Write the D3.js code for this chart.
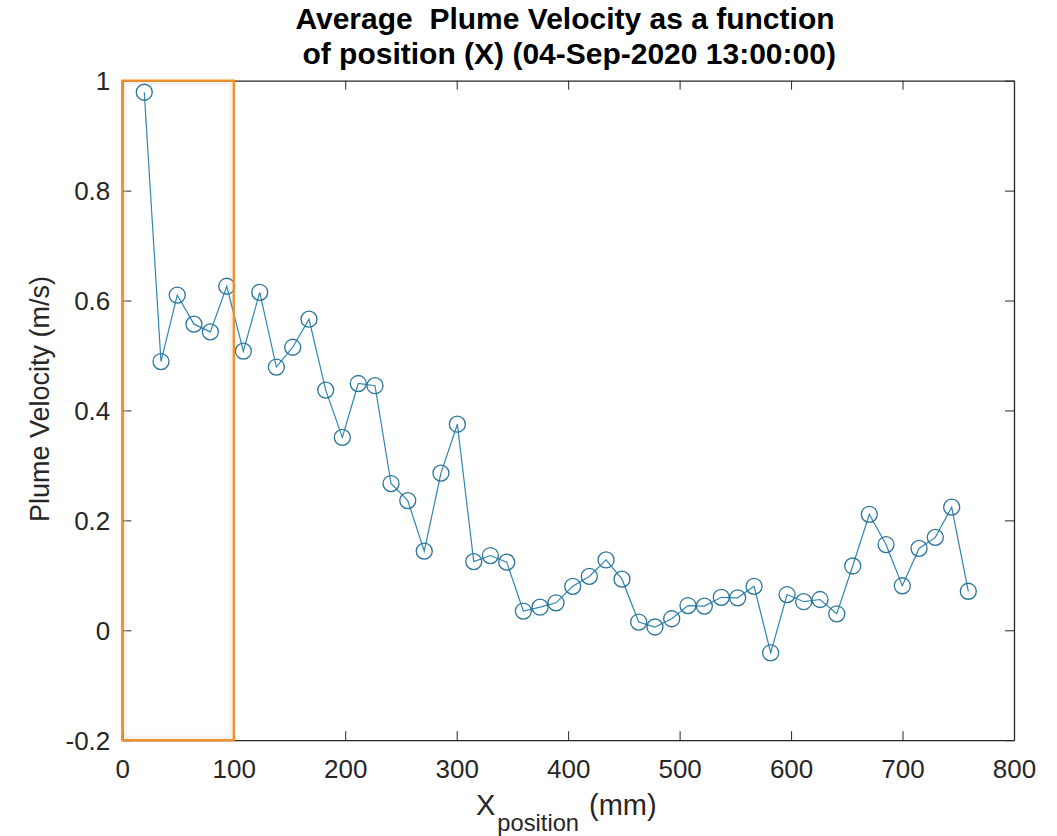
<!DOCTYPE html>
<html>
<head>
<meta charset="utf-8">
<script src="https://cdn.jsdelivr.net/npm/d3@7"></script>
<style>
  html, body { margin: 0; padding: 0; background: #ffffff; }
  svg { display: block; font-family: "Liberation Sans", Arial, Helvetica, sans-serif; }
</style>
</head>
<body>
<svg id="chart" width="1057" height="836"></svg>
<script>
// Measurement positions along the plume (mm)
const xPosition = [19.7, 34.7, 49.3, 64.3, 79.0, 93.7, 108.6, 123.3, 138.2, 152.9,
  167.5, 182.5, 197.4, 211.7, 226.7, 241.1, 256.1, 270.9, 285.9, 300.6,
  315.3, 330.2, 344.9, 359.8, 374.8, 389.1, 404.1, 419.0, 434.0, 448.3,
  463.3, 477.9, 492.9, 507.5, 522.2, 537.4, 552.1, 566.8, 581.7, 596.4,
  611.3, 626.0, 641.0, 655.3, 670.2, 685.2, 699.8, 714.8, 729.4, 744.1, 759.0];

// Average plume velocity at each position (m/s)
const plumeVelocity = [0.979, 0.489, 0.610, 0.557, 0.543, 0.626, 0.508, 0.615, 0.479, 0.515,
  0.566, 0.437, 0.351, 0.449, 0.445, 0.267, 0.236, 0.144, 0.286, 0.375,
  0.125, 0.136, 0.124, 0.035, 0.042, 0.050, 0.080, 0.098, 0.128, 0.093,
  0.015, 0.006, 0.021, 0.045, 0.044, 0.060, 0.059, 0.080, -0.041, 0.065,
  0.052, 0.056, 0.030, 0.117, 0.211, 0.156, 0.081, 0.149, 0.169, 0.224, 0.071];

// Tick values
const xTicks = [0, 100, 200, 300, 400, 500, 600, 700, 800];
const yTicks = [-0.2, 0, 0.2, 0.4, 0.6, 0.8, 1];

// Highlighted region along X (mm)
const highlightRange = [0, 100];

const titleLines = ["Average  Plume Velocity as a function", " of position (X) (04-Sep-2020 13:00:00)"];

const svg = d3.select("#chart");
const plotLeft = 122.3, plotRight = 1014, plotTop = 80.7, plotBottom = 740.2;

const x = d3.scaleLinear().domain([0, 800]).range([plotLeft, plotRight]);
const y = d3.scaleLinear().domain([-0.2, 1]).range([plotBottom, plotTop]);

const axisColor = "#262626";
const tickLen = 9;

svg.append("rect").attr("width", 1057).attr("height", 836).attr("fill", "#ffffff");

// Axes (ticks pointing inward, box on)
const gBottom = svg.append("g").attr("transform", `translate(0,${plotBottom})`)
  .call(d3.axisBottom(x).tickValues(xTicks).tickSizeInner(-tickLen).tickSizeOuter(0).tickPadding(0).tickFormat(d3.format("d")));
const gLeft = svg.append("g").attr("transform", `translate(${plotLeft},0)`)
  .call(d3.axisLeft(y).tickValues(yTicks).tickSizeInner(-tickLen).tickSizeOuter(0).tickPadding(12).tickFormat(d => String(+d.toFixed(1))));
const gTop = svg.append("g").attr("transform", `translate(0,${plotTop})`)
  .call(d3.axisTop(x).tickValues(xTicks).tickSizeInner(-tickLen).tickSizeOuter(0).tickFormat(""));
const gRight = svg.append("g").attr("transform", `translate(${plotRight},0)`)
  .call(d3.axisRight(y).tickValues(yTicks).tickSizeInner(-tickLen).tickSizeOuter(0).tickFormat(""));

[gBottom, gLeft, gTop, gRight].forEach(g => {
  g.select(".domain").attr("stroke", axisColor).attr("stroke-width", 1.3);
  g.selectAll(".tick line").attr("stroke", axisColor).attr("stroke-width", 1);
  g.selectAll(".tick text").attr("fill", axisColor).attr("font-size", 26)
    .attr("font-family", "'Liberation Sans', Arial, Helvetica, sans-serif");
});
gBottom.selectAll(".tick text").attr("y", 38).attr("dy", null);
gLeft.selectAll(".tick text").attr("dy", "0.35em");

// Highlight box over the first 100 mm (soft inner shadow first)
const hx0 = x(highlightRange[0]), hx1 = x(highlightRange[1]);
svg.append("rect")
  .attr("x", hx0 + 3).attr("y", plotTop + 3)
  .attr("width", hx1 - hx0 - 6).attr("height", plotBottom - plotTop - 6)
  .attr("fill", "none").attr("stroke", "#d9d9d9").attr("stroke-width", 3).attr("opacity", 0.35);

// Data line and circle markers
const line = d3.line().x((d, i) => x(xPosition[i])).y(d => y(d));
svg.append("path").datum(plumeVelocity)
  .attr("d", line).attr("fill", "none")
  .attr("stroke", "#2f86b3").attr("stroke-width", 1.2);

svg.append("g").selectAll("circle").data(plumeVelocity).join("circle")
  .attr("cx", (d, i) => x(xPosition[i]))
  .attr("cy", d => y(d))
  .attr("r", 8)
  .attr("fill", "none")
  .attr("stroke", "#2a7599").attr("stroke-width", 1.3);

svg.append("rect")
  .attr("x", hx0).attr("y", plotTop)
  .attr("width", hx1 - hx0).attr("height", plotBottom - plotTop)
  .attr("fill", "none").attr("stroke", "#f0902a").attr("stroke-width", 2.4);

// Title
const title = svg.append("text")
  .attr("text-anchor", "middle").attr("font-weight", "bold")
  .attr("font-size", 30).attr("fill", "#000000")
  .attr("xml:space", "preserve").style("white-space", "pre");
titleLines.forEach((t, i) => {
  title.append("tspan").attr("x", 565).attr("y", 29 + i * 35).text(t);
});

// Y axis label
svg.append("text")
  .attr("transform", "translate(48.5,399) rotate(-90)")
  .attr("text-anchor", "middle").attr("font-size", 27).attr("fill", axisColor)
  .text("Plume Velocity (m/s)");

// X axis label with subscript
const xl = svg.append("text").attr("x", 476).attr("y", 815)
  .attr("font-size", 29).attr("fill", axisColor);
xl.append("tspan").text("X");
xl.append("tspan").attr("font-size", 23.7).attr("dy", 16).attr("dx", 2).text("position");
xl.append("tspan").attr("dy", -16).attr("dx", 10).text("(mm)");
</script>
</body>
</html>
